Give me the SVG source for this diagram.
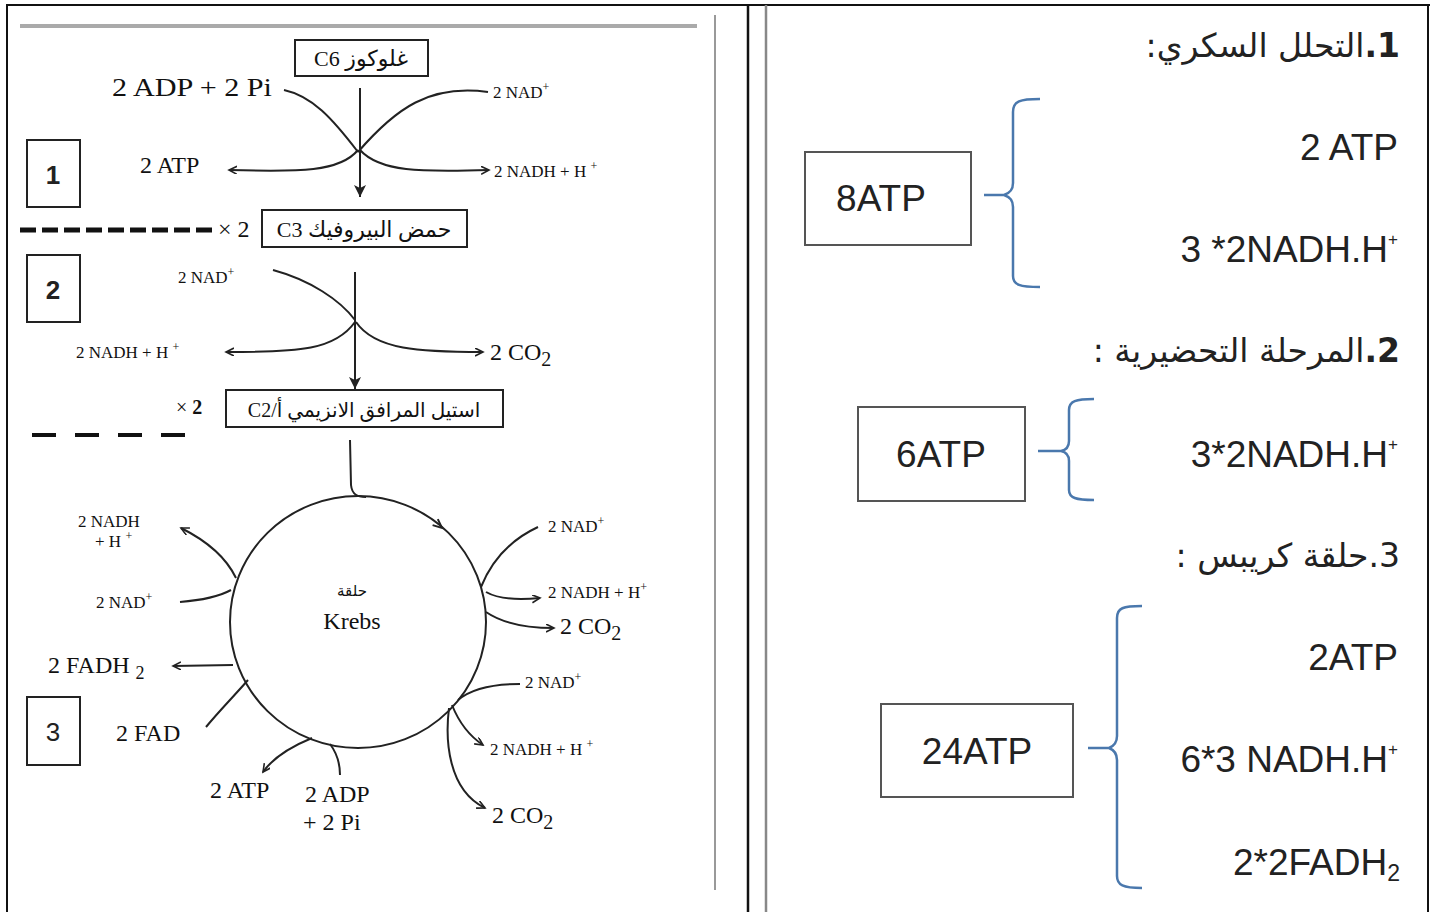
<svg xmlns="http://www.w3.org/2000/svg" width="1436" height="912" viewBox="0 0 1436 912">
<style>
.s{font-family:"Liberation Serif","DejaVu Sans",serif;fill:#111}
.a{font-family:"Liberation Serif","DejaVu Sans",serif;fill:#111}
.c{font-family:"Liberation Sans","Noto Sans",sans-serif;fill:#222}
.ar{font-family:"DejaVu Sans",sans-serif;fill:#222}
.ln{fill:none;stroke:#222;stroke-width:2}
.bx{fill:#fff;stroke:#222;stroke-width:2}
.gb{fill:#fff;stroke:#555;stroke-width:2}
.br{fill:none;stroke:#4a78ad;stroke-width:2.5}
.sm{font-size:17px}
.md{font-size:24px}
</style>
<defs>
<marker id="oa" markerWidth="10" markerHeight="10" refX="8" refY="4" orient="auto" markerUnits="userSpaceOnUse">
<path d="M0,0 L8,4 L0,8" fill="none" stroke="#222" stroke-width="1.6"/>
</marker>
<marker id="fa" markerWidth="14" markerHeight="18" refX="12" refY="6" orient="auto" markerUnits="userSpaceOnUse">
<path d="M0,0 L12,6 L0,12 L3,6 Z" fill="#222"/>
</marker>
</defs>
<rect width="1436" height="912" fill="#fff"/>
<g id="frame">
<line x1="6" y1="5" x2="1430" y2="5" stroke="#111" stroke-width="2"/>
<line x1="7" y1="4" x2="7" y2="912" stroke="#111" stroke-width="2"/>
<line x1="1428" y1="4" x2="1428" y2="912" stroke="#111" stroke-width="2"/>
<line x1="748" y1="5" x2="748" y2="912" stroke="#111" stroke-width="2.5"/>
<line x1="766" y1="5" x2="766" y2="912" stroke="#888" stroke-width="2.5"/>
<line x1="715" y1="15" x2="715" y2="890" stroke="#999" stroke-width="2"/>
<line x1="20" y1="26" x2="697" y2="26" stroke="#aaa" stroke-width="4"/>
</g>
<g id="connectors">
<path class="ln" d="M284,90 C312,96 332,118 358,152"/>
<path class="ln" d="M488,92 C430,84 396,108 358,152"/>
<path class="ln" d="M358,150 C340,172 300,172 229,170" marker-end="url(#oa)"/>
<path class="ln" d="M360,150 C380,172 420,172 489,170" marker-end="url(#oa)"/>
<path class="ln" d="M360,88 L360,197" stroke-width="3" marker-end="url(#fa)"/>
<path class="ln" d="M273,270 C310,280 340,300 355,320"/>
<path class="ln" d="M355,322 C335,350 300,352 226,352" marker-end="url(#oa)"/>
<path class="ln" d="M356,322 C375,350 420,352 483,352" marker-end="url(#oa)"/>
<path class="ln" d="M355,272 L355,389" stroke-width="3" marker-end="url(#fa)"/>
<path class="ln" d="M350,440 L351,485 C352,495 358,497 366,497"/>
<path class="ln" d="M432.6,525.1 L442,528 L437.8,519.1" stroke-width="1.6"/>
<path class="ln" d="M236,578 C225,555 205,540 181,528" marker-end="url(#oa)"/>
<path class="ln" d="M180,602 C205,600 220,596 231,590"/>
<path class="ln" d="M233,665 L173,666" marker-end="url(#oa)"/>
<path class="ln" d="M206,727 C220,710 235,695 248,680"/>
<path class="ln" d="M312,738 C295,745 275,755 263,772" marker-end="url(#oa)"/>
<path class="ln" d="M340,775 C340,762 336,752 330,744"/>
<path class="ln" d="M538,527 C510,540 492,560 481,587"/>
<path class="ln" d="M486,592 C500,600 520,600 540,598" marker-end="url(#oa)"/>
<path class="ln" d="M486,612 C505,625 530,628 554,628" marker-end="url(#oa)"/>
<path class="ln" d="M520,684 C490,684 470,690 458,700"/>
<path class="ln" d="M452,705 C458,720 468,735 483,745" marker-end="url(#oa)"/>
<path class="ln" d="M449,708 C445,740 448,790 485,808" marker-end="url(#oa)"/>
<path class="br" d="M1040,99 C1020,99 1013,101 1013,112 L1013,183 C1013,190 1010,193 1004,195 C1010,197 1013,200 1013,207 L1013,276 C1013,285 1020,287 1040,287 M984,195 L1004,195"/>
<path class="br" d="M1094,399 C1076,399 1069,401 1069,410 L1069,441 C1069,447 1066,450 1061,451 C1066,452 1069,455 1069,461 L1069,490 C1069,498 1076,500 1094,500 M1038,451 L1061,451"/>
<path class="br" d="M1142,606 C1123,606 1117,608 1117,618 L1117,736 C1117,743 1114,746 1109,748 C1114,750 1117,753 1117,760 L1117,876 C1117,885 1123,888 1142,888 M1088,748 L1109,748"/>
</g>
<g id="glucose"><rect class="bx" x="295" y="40" width="133" height="36"/><text class="a" x="361" y="66" font-size="22" text-anchor="middle">C6 غلوكوز</text></g>
<g id="pyruvate"><rect class="bx" x="262" y="210" width="205" height="37"/><text class="a" x="364" y="237" font-size="22" text-anchor="middle">C3 حمض البيروفيك</text></g>
<g id="acetyl"><rect class="bx" x="226" y="390" width="277" height="37"/><text class="a" x="364" y="417" font-size="20" text-anchor="middle" direction="rtl" unicode-bidi="embed">استيل المرافق الانزيمي أ/C2</text></g>
<g id="krebs"><ellipse cx="358" cy="622" rx="128" ry="126" class="ln"/><text class="a" x="352" y="596" font-size="15" text-anchor="middle">حلقة</text><text class="s" x="352" y="629" font-size="24" text-anchor="middle">Krebs</text></g>
<g id="step1"><rect class="bx" x="27" y="140" width="53" height="67"/><text class="c" x="53" y="184" font-size="26" font-weight="bold" text-anchor="middle">1</text></g>
<g id="step2"><rect class="bx" x="27" y="255" width="53" height="67"/><text class="c" x="53" y="299" font-size="26" font-weight="bold" text-anchor="middle">2</text></g>
<g id="step3"><rect class="bx" x="27" y="697" width="53" height="68"/><text class="c" x="53" y="741" font-size="26" text-anchor="middle">3</text></g>
<g id="dashes">
<line x1="20" y1="230" x2="213" y2="230" stroke="#111" stroke-width="5" stroke-dasharray="16,6"/>
<line x1="32" y1="435" x2="185" y2="435" stroke="#111" stroke-width="4" stroke-dasharray="24,19"/>
</g>
<g id="labels-left">
<text class="s" font-size="26" x="112" y="96" textLength="160" lengthAdjust="spacingAndGlyphs">2 ADP +  2 Pi</text>
<text class="s sm" x="493" y="98">2 NAD<tspan dy="-7" font-size="12">+</tspan></text>
<text class="s md" x="140" y="173">2 ATP</text>
<text class="s sm" x="494" y="177">2 NADH + H <tspan dy="-7" font-size="12">+</tspan></text>
<text class="s md" x="218" y="237">× 2</text>
<text class="s sm" x="178" y="283">2 NAD<tspan dy="-7" font-size="12">+</tspan></text>
<text class="s sm" x="76" y="358">2 NADH + H <tspan dy="-7" font-size="12">+</tspan></text>
<text class="s md" x="490" y="360">2 CO<tspan dy="6" font-size="20">2</tspan></text>
<text class="s" x="176" y="414" font-size="20">× <tspan font-weight="bold">2</tspan></text>
<text class="s sm" x="78" y="527">2 NADH</text>
<text class="s sm" x="95" y="547">+ H <tspan dy="-7" font-size="12">+</tspan></text>
<text class="s sm" x="96" y="608">2 NAD<tspan dy="-7" font-size="12">+</tspan></text>
<text class="s md" x="48" y="673">2 FADH <tspan dy="6" font-size="18">2</tspan></text>
<text class="s md" x="116" y="741">2 FAD</text>
<text class="s md" x="210" y="798">2 ATP</text>
<text class="s md" x="305" y="802">2 ADP</text>
<text class="s md" x="303" y="830">+ 2 Pi</text>
<text class="s sm" x="548" y="532">2 NAD<tspan dy="-7" font-size="12">+</tspan></text>
<text class="s sm" x="548" y="598">2 NADH + H<tspan dy="-7" font-size="12">+</tspan></text>
<text class="s md" x="560" y="634">2 CO<tspan dy="6" font-size="20">2</tspan></text>
<text class="s sm" x="525" y="688">2 NAD<tspan dy="-7" font-size="12">+</tspan></text>
<text class="s sm" x="490" y="755">2 NADH + H <tspan dy="-7" font-size="12">+</tspan></text>
<text class="s md" x="492" y="823">2 CO<tspan dy="6" font-size="20">2</tspan></text>
</g>
<g id="right">
<text class="ar" x="1400" y="57" font-size="33" direction="rtl" unicode-bidi="embed"><tspan font-weight="bold">1.</tspan>التحلل السكري:</text>
<text class="c" x="1398" y="160" font-size="37" text-anchor="end">2 ATP</text>
<text class="c" x="1398" y="262" font-size="37" text-anchor="end">3 *2NADH.H<tspan dy="-17" font-size="17">+</tspan></text>
<g id="box8"><rect class="gb" x="805" y="152" width="166" height="93"/><text class="c" x="881" y="211" font-size="37" text-anchor="middle">8ATP</text></g>
<text class="ar" x="1400" y="362" font-size="33" direction="rtl" unicode-bidi="embed"><tspan font-weight="bold">2.</tspan>المرحلة التحضيرية :</text>
<text class="c" x="1398" y="467" font-size="37" text-anchor="end">3*2NADH.H<tspan dy="-17" font-size="17">+</tspan></text>
<g id="box6"><rect class="gb" x="858" y="407" width="167" height="94"/><text class="c" x="941" y="467" font-size="37" text-anchor="middle">6ATP</text></g>
<text class="ar" x="1400" y="567" font-size="33" direction="rtl" unicode-bidi="embed">3.حلقة كريبس :</text>
<text class="c" x="1398" y="670" font-size="37" text-anchor="end">2ATP</text>
<text class="c" x="1398" y="772" font-size="37" text-anchor="end">6*3 NADH.H<tspan dy="-17" font-size="17">+</tspan></text>
<text class="c" x="1400" y="875" font-size="37" text-anchor="end">2*2FADH<tspan dy="6" font-size="23">2</tspan></text>
<g id="box24"><rect class="gb" x="881" y="704" width="192" height="93"/><text class="c" x="977" y="764" font-size="37" text-anchor="middle">24ATP</text></g>
</g>
</svg>
